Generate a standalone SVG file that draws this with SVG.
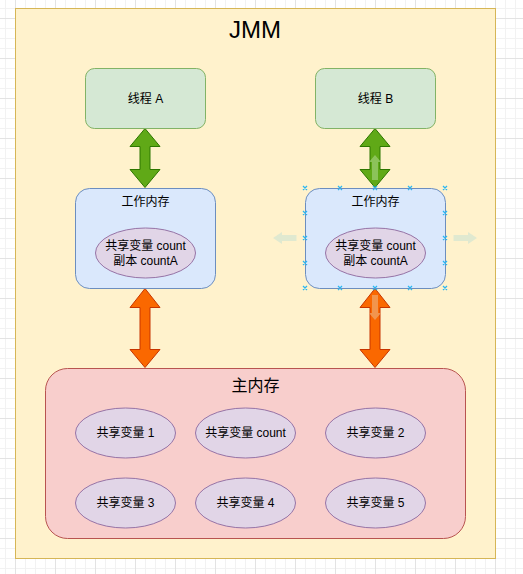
<svg xmlns="http://www.w3.org/2000/svg" width="523" height="574" viewBox="0 0 523 574">
<style>
.t{font-family:"Liberation Sans","Noto Sans CJK SC",sans-serif;font-size:12px;fill:#000;text-anchor:middle;dominant-baseline:central}
.thread{fill:#d5e8d4;stroke:#82b366;stroke-width:1}
.work{fill:#dae8fc;stroke:#6c8ebf;stroke-width:1}
.var{fill:#e1d5e7;stroke:#9673a6;stroke-width:1}
.green{fill:#60a917;stroke:#2d7600;stroke-width:1}
.orange{fill:#fa6800;stroke:#c73500;stroke-width:1}
.hint{fill:#dde8d0;opacity:0.9}
.mark{stroke:#29b6f2;stroke-width:1.2;fill:none}
</style>
<defs>
<pattern id="minor" patternUnits="userSpaceOnUse" x="5" y="8" width="10" height="10">
<path d="M0 0.5H10M0.5 0V10" stroke="#f2f2f2" stroke-width="1" fill="none"/>
</pattern>
<pattern id="major" patternUnits="userSpaceOnUse" x="15" y="18" width="40" height="40">
<path d="M0 0.5H40M0.5 0V40" stroke="#e3e3e3" stroke-width="1" fill="none"/>
</pattern>
<path id="dblv" d="M0 0 L15 18.5 L5 18.5 L5 -18.5 L15 -18.5 L0 0Z"/>
</defs>
<rect width="523" height="574" fill="#ffffff"/>
<rect width="523" height="574" fill="url(#minor)"/>
<rect width="523" height="574" fill="url(#major)"/>

<g id="jmm">
<rect x="15.5" y="8.5" width="480" height="550" fill="#fff2cc" stroke="#d6b656"/>
<text class="t" x="255" y="29" style="font-size:24px">JMM</text>
</g>

<g id="connectors">
<polygon class="green" points="145,128.5 160,146.5 150,146.5 150,169.5 160,169.5 145,187.5 130,169.5 140,169.5 140,146.5 130,146.5"/>
<polygon class="green" points="375,128.5 390,146.5 380,146.5 380,169.5 390,169.5 375,187.5 360,169.5 370,169.5 370,146.5 360,146.5"/>
<polygon class="orange" points="145,288.5 160,307.5 150,307.5 150,349.5 160,349.5 145,367.5 130,349.5 140,349.5 140,307.5 130,307.5"/>
<polygon class="orange" points="375,288.5 390,307.5 380,307.5 380,349.5 390,349.5 375,367.5 360,349.5 370,349.5 370,307.5 360,307.5"/>
</g>

<g id="threadA">
<rect class="thread" x="85.5" y="68.5" width="120" height="60" rx="9"/>
<text class="t" x="145.5" y="98.5">线程 A</text>
</g>
<g id="threadB">
<rect class="thread" x="315.5" y="68.5" width="120" height="60" rx="9"/>
<text class="t" x="375.5" y="98.5">线程 B</text>
</g>

<g id="workA">
<rect class="work" x="75.5" y="188.5" width="140" height="100" rx="14"/>
<text class="t" x="145.5" y="202">工作内存</text>
<ellipse class="var" cx="145.5" cy="253" rx="50" ry="25"/>
<text class="t" x="145.5" y="246">共享变量 count</text>
<text class="t" x="145.5" y="261">副本 countA</text>
</g>
<g id="workB">
<rect class="work" x="305.5" y="188.5" width="140" height="100" rx="14"/>
<text class="t" x="375.5" y="202">工作内存</text>
<ellipse class="var" cx="375.5" cy="253" rx="50" ry="25"/>
<text class="t" x="375.5" y="246">共享变量 count</text>
<text class="t" x="375.5" y="261">副本 countA</text>
</g>

<g id="mainMemory">
<rect x="45.5" y="368.5" width="420" height="170" rx="22" fill="#f8cecc" stroke="#b85450"/>
<text class="t" x="255.5" y="385" style="font-size:16px">主内存</text>
</g>
<g id="var1"><ellipse class="var" cx="125.5" cy="433" rx="50" ry="25"/><text class="t" x="125.5" y="433">共享变量 1</text></g>
<g id="varCount"><ellipse class="var" cx="245.5" cy="433" rx="50" ry="25"/><text class="t" x="245.5" y="433">共享变量 count</text></g>
<g id="var2"><ellipse class="var" cx="375.5" cy="433" rx="50" ry="25"/><text class="t" x="375.5" y="433">共享变量 2</text></g>
<g id="var3"><ellipse class="var" cx="125.5" cy="503" rx="50" ry="25"/><text class="t" x="125.5" y="503">共享变量 3</text></g>
<g id="var4"><ellipse class="var" cx="245.5" cy="503" rx="50" ry="25"/><text class="t" x="245.5" y="503">共享变量 4</text></g>
<g id="var5"><ellipse class="var" cx="375.5" cy="503" rx="50" ry="25"/><text class="t" x="375.5" y="503">共享变量 5</text></g>

<g id="hints">
<polygon class="hint" points="273,238 282,232 282,235 296.5,235 296.5,241 282,241 282,244"/>
<polygon class="hint" points="477,238 468,232 468,235 453.5,235 453.5,241 468,241 468,244"/>
<polygon points="375,155 381,162 378,162 378,180 372,180 372,162 369,162" fill="#9fcf78" opacity="0.7"/>
<polygon points="375,320 381,313 378,313 378,295 372,295 372,313 369,313" fill="#f0a060" opacity="0.8"/>
<path class="mark" d="M303 186l4 4m0-4l-4 4M338 186l4 4m0-4l-4 4M373 186l4 4m0-4l-4 4M408 186l4 4m0-4l-4 4M443 186l4 4m0-4l-4 4M303 211l4 4m0-4l-4 4M443 211l4 4m0-4l-4 4M303 236l4 4m0-4l-4 4M443 236l4 4m0-4l-4 4M303 261l4 4m0-4l-4 4M443 261l4 4m0-4l-4 4M303 286l4 4m0-4l-4 4M338 286l4 4m0-4l-4 4M373 286l4 4m0-4l-4 4M408 286l4 4m0-4l-4 4M443 286l4 4m0-4l-4 4"/>
</g>
</svg>
